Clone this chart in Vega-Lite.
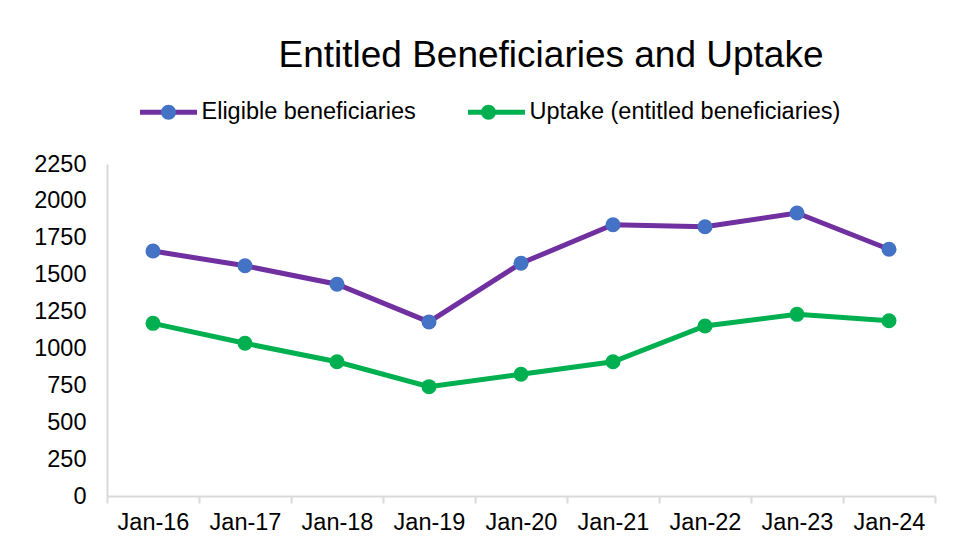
{
  "$schema": "https://vega.github.io/schema/vega-lite/v6.json",
  "width": 828,
  "height": 332,
  "autosize": "none",
  "padding": {"left": 107, "top": 164, "right": 21, "bottom": 55},
  "background": "white",
  "config": {"font": "Liberation Sans", "view": {"stroke": null}},
  "title": {
    "text": "Entitled Beneficiaries and Uptake",
    "fontSize": 37,
    "fontWeight": "normal",
    "color": "black",
    "anchor": "middle",
    "dx": 30,
    "dy": 37,
    "offset": 14,
    "baseline": "alphabetic",
    "font": "Liberation Sans"
  },
  "data": {
    "values": [
      {"month": "Jan-16", "series": "Eligible beneficiaries", "value": 1660},
      {"month": "Jan-17", "series": "Eligible beneficiaries", "value": 1560},
      {"month": "Jan-18", "series": "Eligible beneficiaries", "value": 1435},
      {"month": "Jan-19", "series": "Eligible beneficiaries", "value": 1180},
      {"month": "Jan-20", "series": "Eligible beneficiaries", "value": 1577},
      {"month": "Jan-21", "series": "Eligible beneficiaries", "value": 1838},
      {"month": "Jan-22", "series": "Eligible beneficiaries", "value": 1825},
      {"month": "Jan-23", "series": "Eligible beneficiaries", "value": 1918},
      {"month": "Jan-24", "series": "Eligible beneficiaries", "value": 1672},
      {"month": "Jan-16", "series": "Uptake (entitled beneficiaries)", "value": 1170},
      {"month": "Jan-17", "series": "Uptake (entitled beneficiaries)", "value": 1035},
      {"month": "Jan-18", "series": "Uptake (entitled beneficiaries)", "value": 910},
      {"month": "Jan-19", "series": "Uptake (entitled beneficiaries)", "value": 741},
      {"month": "Jan-20", "series": "Uptake (entitled beneficiaries)", "value": 825},
      {"month": "Jan-21", "series": "Uptake (entitled beneficiaries)", "value": 910},
      {"month": "Jan-22", "series": "Uptake (entitled beneficiaries)", "value": 1152},
      {"month": "Jan-23", "series": "Uptake (entitled beneficiaries)", "value": 1231},
      {"month": "Jan-24", "series": "Uptake (entitled beneficiaries)", "value": 1188}
    ]
  },
  "encoding": {
    "x": {
      "field": "month",
      "type": "ordinal",
      "sort": null,
      "scale": {"type": "band", "paddingInner": 0, "paddingOuter": 0},
      "axis": {
        "title": null,
        "labelAngle": 0,
        "labelFontSize": 23.5,
        "labelColor": "black",
        "domainColor": "#d9d9d9",
        "domainWidth": 2,
        "tickColor": "#d9d9d9",
        "tickWidth": 2,
        "tickSize": 7,
        "tickBand": "extent",
        "labelPadding": 7
      }
    },
    "y": {
      "field": "value",
      "type": "quantitative",
      "scale": {"domain": [0, 2250], "nice": false},
      "axis": {
        "title": null,
        "values": [0, 250, 500, 750, 1000, 1250, 1500, 1750, 2000, 2250],
        "format": "d",
        "grid": false,
        "ticks": false,
        "domainColor": "#d9d9d9",
        "domainWidth": 2,
        "labelFontSize": 23.5,
        "labelColor": "black",
        "labelPadding": 21
      }
    }
  },
  "layer": [
    {
      "mark": {"type": "line", "strokeWidth": 5},
      "encoding": {
        "color": {
          "field": "series",
          "type": "nominal",
          "scale": {"range": ["#7030A0", "#00B050"]},
          "legend": {
            "orient": "none",
            "legendX": 30.5,
            "legendY": -83,
            "direction": "horizontal",
            "title": null,
            "symbolType": "stroke",
            "symbolSize": 3249,
            "symbolStrokeWidth": 5,
            "labelFontSize": 23.5,
            "labelColor": "black",
            "labelOffset": 2,
            "columnPadding": 41,
            "padding": 0,
            "labelLimit": 0
          }
        }
      }
    },
    {
      "mark": {"type": "point", "filled": true, "size": 225, "opacity": 1},
      "encoding": {
        "fill": {
          "field": "series",
          "type": "nominal",
          "scale": {
            "domain": ["Eligible beneficiaries", "Uptake (entitled beneficiaries)"],
            "range": ["#4472C4", "#00B050"]
          },
          "legend": {
            "orient": "none",
            "legendX": 30.5,
            "legendY": -83,
            "direction": "horizontal",
            "title": null,
            "symbolType": "M0.263,0A0.263,0.263,0,1,1,-0.263,0A0.263,0.263,0,1,1,0.263,0Z",
            "symbolSize": 3249,
            "symbolStrokeWidth": 5,
            "symbolStrokeColor": "transparent",
            "symbolOpacity": 1,
            "labelFontSize": 23.5,
            "labelColor": "black",
            "labelOpacity": 0,
            "labelOffset": 2,
            "columnPadding": 41,
            "padding": 0,
            "labelLimit": 0
          }
        }
      }
    }
  ]
}
